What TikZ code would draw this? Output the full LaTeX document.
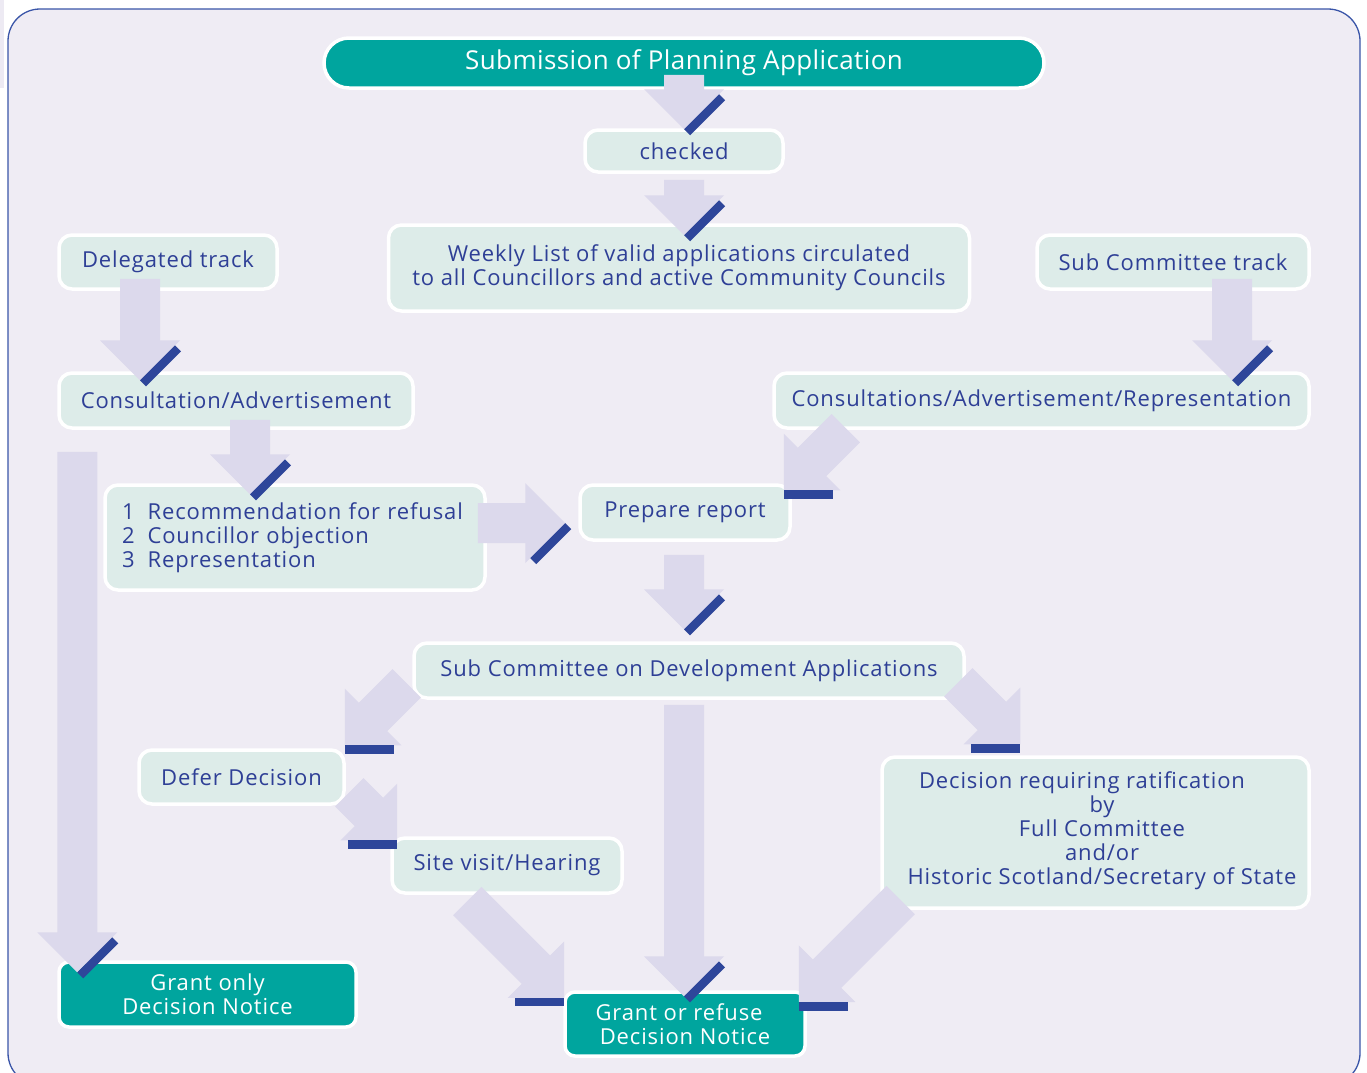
\documentclass[tikz,border=0pt]{standalone}
\usepackage{fontspec}
\setmainfont{Open Sans}
\newfontfamily\bodyff{Open Sans}[LetterSpace=4]
\newfontfamily\titleff{Open Sans}[LetterSpace=1.5]
\usetikzlibrary{calc}
\definecolor{bgc}{HTML}{EFECF4}
\definecolor{framec}{HTML}{3A55A8}
\definecolor{boxfill}{HTML}{DDECE9}
\definecolor{tealc}{HTML}{00A59E}
\definecolor{txtc}{HTML}{2E3F96}
\definecolor{arrowlight}{HTML}{DCD9EC}
\definecolor{arrowdark}{HTML}{2E469A}
\newcommand\bdfont{\bodyff\fontsize{22}{24}\selectfont}
\newcommand\ttlfont{\titleff\fontsize{26}{30}\selectfont}
% block arrow from tail #1 to tip #2, shadow band on side #3 (+1 left of travel, -1 right)
\newcommand\blockarrow[3]{%
  \path let \p1=(#1), \p2=(#2),
    \n1={atan2(\y2-(\y1),\x2-(\x1))},
    \n2={veclen(\x2-(\x1),\y2-(\y1))} in
    \pgfextra{\xdef\barang{\n1}\xdef\barlen{\n2}};
  \begin{scope}[shift={(#1)}, rotate=\barang, x=1pt, y=1pt]
    \fill[arrowlight] (0,-20) -- (\barlen-40,-20) -- (\barlen-40,-40) -- (\barlen,0)
      -- (\barlen-40,40) -- (\barlen-40,20) -- (0,20) -- cycle;
    \fill[arrowdark] (\barlen,0) -- (\barlen-35,#3*35) -- (\barlen-29,#3*41)
      -- (\barlen+6,#3*6) -- cycle;
  \end{scope}}
\begin{document}
\begin{tikzpicture}[x=1pt,y=-1pt,
  box/.style={draw=white, line width=3.5pt, fill=boxfill, rounded corners=13pt,
    text=txtc, inner sep=0pt, font=\bdfont},
  tealbox/.style={box, fill=tealc, text=white},
  plain/.style={inner sep=0pt, font=\bdfont, text=txtc}]
\useasboundingbox (0,0) rectangle (1367,1072);
\fill[white] (0,0) rectangle (1367,1072);
\fill[bgc!90!arrowlight] (0,0) rectangle (4,88);
\draw[framec, line width=1.3pt, fill=bgc, rounded corners=32pt] (8,9) rectangle (1360,1085);

% nodes
\node[tealbox, rounded corners=25pt, minimum width=720pt, minimum height=50pt, font=\ttlfont]
  (sub) at (684,63) {Submission of Planning Application};
\node[box, minimum width=198pt, minimum height=42pt] (chk) at (684,151) {checked};
\node[box, minimum width=581pt, minimum height=86pt, align=center] (week) at (679,268)
  {Weekly List of valid applications circulated\\to all Councillors and active Community Councils};
\node[box, minimum width=218pt, minimum height=54pt] (del) at (168,262) {Delegated track};
\node[box, minimum width=272pt, minimum height=54pt] (sct) at (1173,262) {Sub Committee track};
\node[box, minimum width=354pt, minimum height=55pt] (cons) at (236,400.5) {Consultation/Advertisement};
\node[box, minimum width=535pt, minimum height=55pt] (cons2) at (1041.5,400.5) {Consultations/Advertisement/Representation};
\node[box, minimum width=380pt, minimum height=105pt, text width=346pt, align=left] (list) at (295,537.5)
  {1\hspace{13pt}Recommendation for refusal\\2\hspace{13pt}Councillor objection\\3\hspace{13pt}Representation};
\node[box, minimum width=210pt, minimum height=55pt] (prep) at (685,512.5) {Prepare report};
\node[box, minimum width=550pt, minimum height=55pt] (scd) at (689,670.5) {Sub Committee on Development Applications};
\node[box, minimum width=205pt, minimum height=54pt] (defer) at (241.5,777) {Defer Decision};
\node[box, minimum width=230pt, minimum height=55pt] (site) at (507,865.5) {Site visit/Hearing};
\node[box, minimum width=427pt, minimum height=151pt] (rat) at (1095.5,832.5) {};
\node[plain, align=center] (rattext) at (1102,831)
  {Decision requiring ratification\hspace*{40pt}\\by\hspace*{40pt}\\Full Committee\hspace*{40pt}\\and/or\hspace*{20pt}\\Historic Scotland/Secretary of State};
\node[tealbox, rounded corners=10pt, minimum width=297pt, minimum height=65pt, align=center] (g1) at (207.5,994.5)
  {Grant only\\Decision Notice};
\node[tealbox, rounded corners=10pt, minimum width=240pt, minimum height=64pt, align=center] (g2) at (685,1024)
  {Grant or refuse\hspace*{12pt}\\Decision Notice};

% arrow end points
\coordinate (a1t) at ($(sub.south)+(0,-15)$);
\coordinate (a1h) at ($(chk.north)+(0,1)$);
\coordinate (a2t) at ($(chk.south)+(0,6)$);
\coordinate (a2h) at ($(chk.south |- week.north)+(0,12)$);
\coordinate (a3t) at ($(del.south)+(-28,-12)$);
\coordinate (a3h) at ($(a3t |- cons.north)+(0,9)$);
\coordinate (a4t) at ($(sct.south)+(59,-12)$);
\coordinate (a4h) at ($(a4t |- cons2.north)+(0,9)$);
\coordinate (a5t) at ($(cons.south)+(14,-10)$);
\coordinate (a5h) at ($(a5t |- list.north)+(0,11)$);
\coordinate (a6h) at ($(prep.north east)+(-8,7)$);
\coordinate (a6t) at ($(a6h)+(62,-62)$);
\coordinate (a7t) at ($(list.east)+(-9,-14.5)$);
\coordinate (a7h) at ($(a7t -| prep.west)+(-13,0)$);
\coordinate (a8t) at ($(prep.south)+(-1,13)$);
\coordinate (a8h) at ($(a8t |- scd.north)+(0,-12)$);
\coordinate (a9h) at ($(defer.north east)+(-1,-3)$);
\coordinate (a9t) at ($(a9h)+(62,-62)$);
\coordinate (a10h) at ($(site.north west)+(7,4)$);
\coordinate (a10t) at ($(a10h)+(-48,-48)$);
\coordinate (a11h) at ($(rat.north west)+(140,-11)$);
\coordinate (a11t) at ($(a11h)+(-62,-62)$);
\coordinate (a12h) at ($(g2.west)+(1,-26)$);
\coordinate (a12t) at ($(a12h)+(-97,-97)$);
\coordinate (a13t) at ($(g2.north |- scd.south)+(-1,5)$);
\coordinate (a13h) at ($(g2.north)+(-1,6)$);
\coordinate (a14h) at ($(g2.east)+(-8,-22)$);
\coordinate (a14t) at ($(a14h)+(102,-102)$);
\coordinate (a15t) at ($(cons.south west)+(20,22)$);
\coordinate (a15h) at ($(a15t |- g1.north)+(0,12)$);

% arrows
\blockarrow{a1t}{a1h}{1}
\blockarrow{a2t}{a2h}{1}
\blockarrow{a3t}{a3h}{1}
\blockarrow{a4t}{a4h}{1}
\blockarrow{a5t}{a5h}{1}
\blockarrow{a6t}{a6h}{1}
\blockarrow{a7t}{a7h}{-1}
\blockarrow{a8t}{a8h}{1}
\blockarrow{a9t}{a9h}{1}
\blockarrow{a10t}{a10h}{-1}
\blockarrow{a11t}{a11h}{-1}
\blockarrow{a12t}{a12h}{-1}
\blockarrow{a13t}{a13h}{1}
\blockarrow{a14t}{a14h}{1}
\blockarrow{a15t}{a15h}{1}
\end{tikzpicture}
\end{document}
